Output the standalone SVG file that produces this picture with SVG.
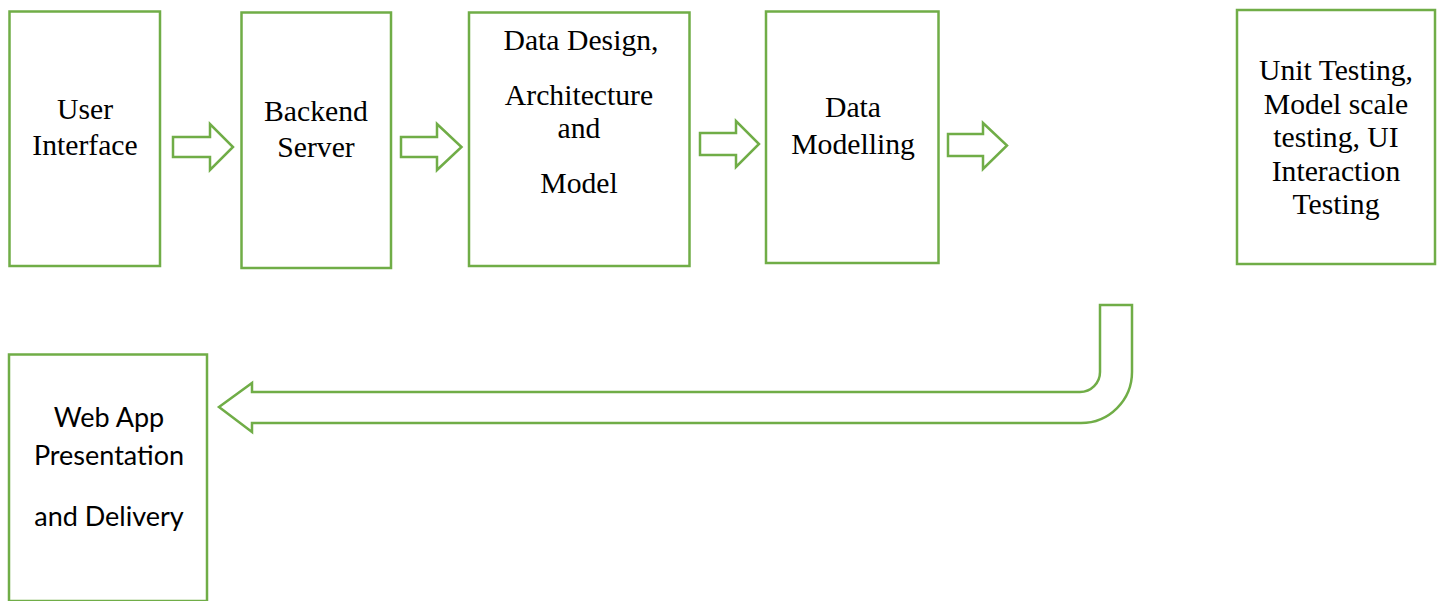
<svg xmlns="http://www.w3.org/2000/svg" width="1445" height="601" viewBox="0 0 1445 601">
<style>
.box{fill:#ffffff;stroke:#70AD47;stroke-width:2.5}
.arr{fill:#ffffff;stroke:#70AD47;stroke-width:2.5;stroke-linejoin:miter}
.t{font-family:"Liberation Serif","Times New Roman",serif;font-size:29.7px;fill:#000;text-anchor:middle}
.s{font-family:Lato,"Liberation Sans",sans-serif;font-size:27px;fill:#000;text-anchor:middle}
</style>
<rect width="1445" height="601" fill="#ffffff"/>
<g id="connectors">
<polygon class="arr" points="173,137 210,137 210,124 233,147 210,170 210,157 173,157"/>
<polygon class="arr" points="401,137 437,137 437,124 461.5,147 437,170 437,157 401,157"/>
<polygon class="arr" points="700,133 736,133 736,121 759,144 736,167 736,155 700,155"/>
<polygon class="arr" points="948,134 983,134 983,123 1007,145.5 983,169 983,156 948,156"/>
<path class="arr" d="M1100,305 L1132,305 L1132,372 A51,51 0 0 1 1081,423 L252,423 L252,432 L219,407 L252,383 L252,392 L1080,392 A20,20 0 0 0 1100,372 Z"/>
</g>
<g id="user-interface">
<rect class="box" x="9.5" y="11.5" width="150.5" height="254.5"/>
<text class="t" x="85" y="119">User</text>
<text class="t" x="85" y="155">Interface</text>
</g>
<g id="backend-server">
<rect class="box" x="241.5" y="12.5" width="149.5" height="255.5"/>
<text class="t" x="316" y="121">Backend</text>
<text class="t" x="316" y="157">Server</text>
</g>
<g id="data-design">
<rect class="box" x="469" y="12.5" width="220.5" height="253.5"/>
<text class="t" x="581" y="50">Data Design,</text>
<text class="t" x="579" y="105">Architecture</text>
<text class="t" x="579" y="138">and</text>
<text class="t" x="579" y="193">Model</text>
</g>
<g id="data-modelling">
<rect class="box" x="766" y="11.5" width="172.5" height="251.5"/>
<text class="t" x="853" y="117">Data</text>
<text class="t" x="853" y="154">Modelling</text>
</g>
<g id="testing">
<rect class="box" x="1237" y="10" width="198" height="254"/>
<text class="t" x="1336" y="80">Unit Testing,</text>
<text class="t" x="1336" y="113.5">Model scale</text>
<text class="t" x="1336" y="147">testing, UI</text>
<text class="t" x="1336" y="181">Interaction</text>
<text class="t" x="1336" y="214">Testing</text>
</g>
<g id="web-app">
<rect class="box" x="9" y="354.5" width="198" height="246.5"/>
<text class="s" x="109" y="427">Web App</text>
<text class="s" x="109" y="465">Presentation</text>
<text class="s" x="109" y="526">and Delivery</text>
</g>
</svg>
